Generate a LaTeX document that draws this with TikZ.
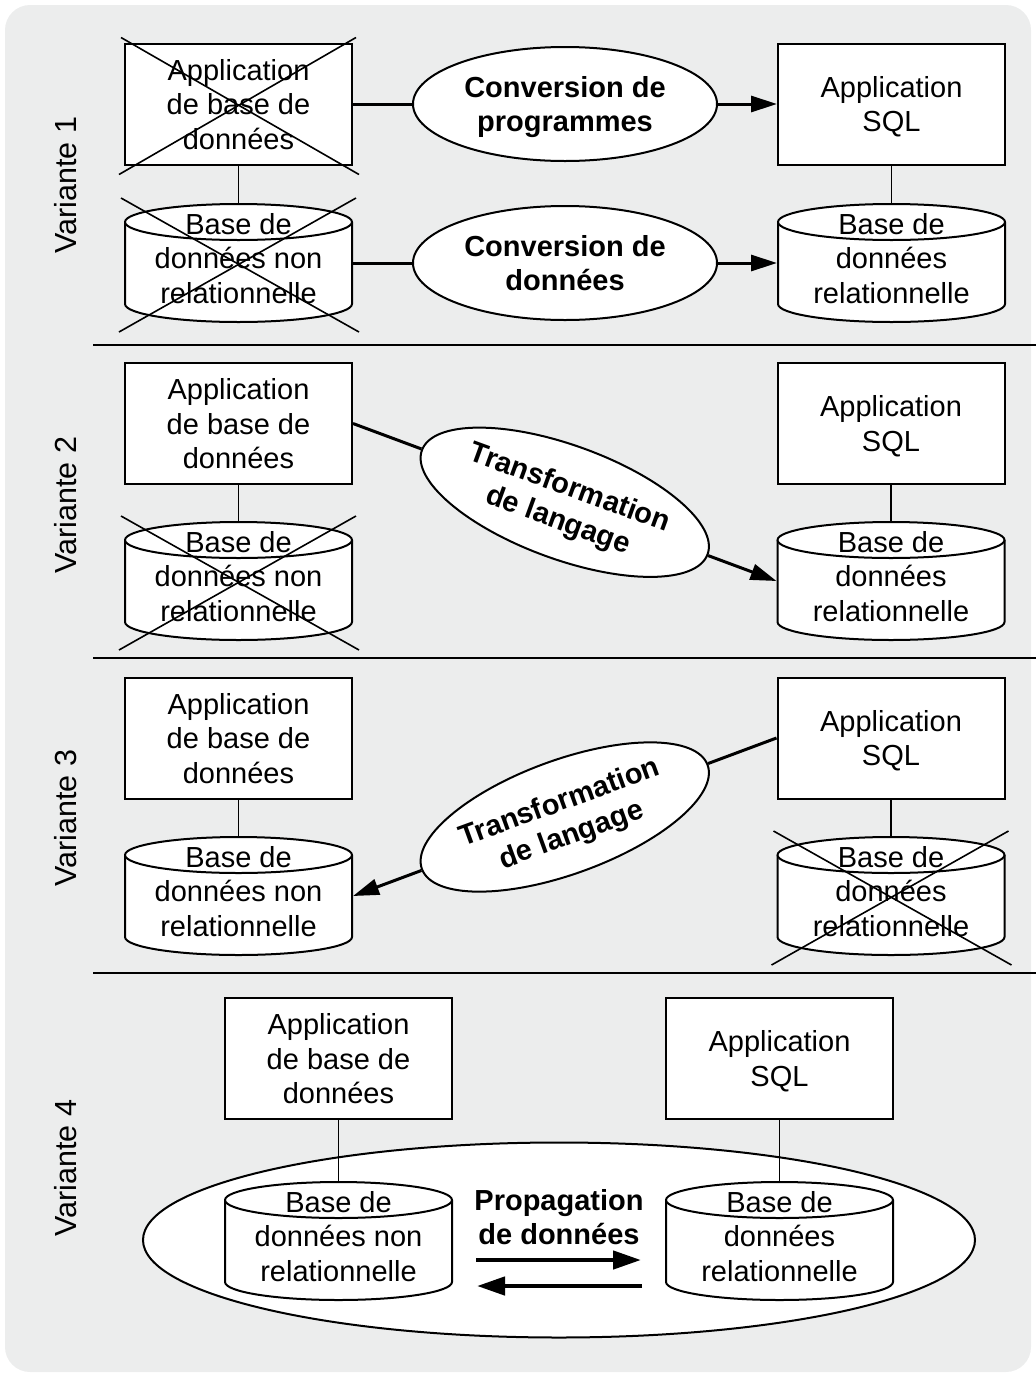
\documentclass[tikz,border=0pt]{standalone}
\usepackage{fontspec}
\setmainfont{Liberation Sans}
\usetikzlibrary{arrows.meta,positioning,shapes.geometric,calc}
\definecolor{panel}{RGB}{236,237,237}

% crossed-out node
\newcommand{\barre}[1]{%
  \path (#1.west |- #1.north) ++(-3,-5) coordinate (#1-a)
        (#1.east |- #1.south) ++(6,9) coordinate (#1-b)
        (#1.east |- #1.north) ++(3,-5) coordinate (#1-c)
        (#1.west |- #1.south) ++(-5,9) coordinate (#1-d);
  \draw[cross] (#1-a) -- (#1-b) (#1-c) -- (#1-d);}

% database drum: name, centre, text
\newcommand{\basedb}[3]{%
  \path #2 coordinate (#1-m);
  \filldraw[drum] ([shift={(-113.5,-41)}]#1-m) -- ([shift={(-113.5,41)}]#1-m)
    arc[start angle=180, end angle=360, x radius=113.5pt, y radius=18pt]
    -- ([shift={(113.5,-41)}]#1-m)
    arc[start angle=0, end angle=180, x radius=113.5pt, y radius=18pt] -- cycle;
  \draw[drum] ([shift={(-113.5,-41)}]#1-m)
    arc[start angle=180, end angle=360, x radius=113.5pt, y radius=18pt];
  \node[db] (#1) at #2 {#3};}

\begin{document}
\begin{tikzpicture}[x=1pt, y=-1pt,
  font=\fontsize{29}{34.5}\selectfont,
  app/.style={draw, line width=2pt, fill=white, align=center, minimum width=227pt, minimum height=121pt, inner sep=0pt, text depth=-5pt},
  drum/.style={line width=2pt, fill=white},
  db/.style={line width=2pt, align=center, minimum width=227pt, minimum height=118pt, inner sep=0pt, text depth=10pt},
  conv/.style={ellipse, draw, line width=2pt, fill=white, align=center, minimum width=304pt, minimum height=114pt, inner sep=0pt, text depth=-5pt, font=\fontsize{29}{34.5}\selectfont\bfseries},
  vlabel/.style={rotate=90, font=\fontsize{30.5}{36}\selectfont},
  link/.style={line width=1.6pt},
  flow/.style={line width=3pt},
  arr/.style={flow, -{Triangle[length=26pt, width=16pt]}},
  fat/.style={line width=4.5pt, -{Triangle[length=28pt, width=18pt]}, shorten <=23pt, shorten >=24pt},
  cross/.style={line width=1.6pt},
  sep/.style={line width=2.2pt},
  node distance=38pt and 59pt,
]
\useasboundingbox (0,0) rectangle (1036,1374);
\fill[panel, rounded corners=25pt] (5,5) rectangle (1031,1372);
\foreach \y in {345,658,973}
  \draw[sep] (93,\y) -- (1036,\y);

% Variante 1
\node[vlabel] (v1) at (66,185) {Variante 1};
\node[app] (app1) at (238.5,104) {Application\\de base de\\données};
\basedb{db1}{(238.5,263)}{Base de\\données non\\relationnelle}
\node[conv, right=of app1] (conv1) {Conversion de\\programmes};
\node[app, right=of conv1] (sql1) {Application\\SQL};
\node[conv, right=of db1] (conv2) {Conversion de\\données};
\basedb{rdb1}{(891.5,263)}{Base de\\données\\relationnelle}
\draw[link] (app1) -- (db1);
\draw[link] (sql1) -- (rdb1);
\draw[flow] (app1) -- (conv1);
\draw[arr] (conv1) -- (sql1);
\draw[flow] (db1) -- (conv2);
\draw[arr] (conv2) -- (rdb1);
\barre{app1}
\barre{db1}

% Variante 2
\node[vlabel] (v2) at (66,505) {Variante 2};
\node[app] (app2) at (238.5,423.5) {Application\\de base de\\données};
\basedb{db2}{(238.5,581)}{Base de\\données non\\relationnelle}
\node[app] (sql2) at (891,423.5) {Application\\SQL};
\basedb{rdb2}{(891,581)}{Base de\\données\\relationnelle}
\node[conv, rotate=-20] (tr1) at ($(app2.east)!0.5!(rdb2.west)$) {Transformation\\de langage};
\draw[link] (app2) -- (db2);
\draw[link] (sql2) -- (rdb2);
\draw[flow] (app2.east) -- (tr1);
\draw[arr] (tr1) -- (rdb2.west);
\barre{db2}

% Variante 3
\node[vlabel] (v3) at (66,818) {Variante 3};
\node[app] (app3) at (238.5,738) {Application\\de base de\\données};
\basedb{db3}{(238.5,896)}{Base de\\données non\\relationnelle}
\node[app] (sql3) at (891,738) {Application\\SQL};
\basedb{rdb3}{(891,896)}{Base de\\données\\relationnelle}
\node[conv, rotate=20] (tr2) at ($(sql3.west)!0.5!(db3.east)$) {Transformation\\de langage};
\draw[link] (app3) -- (db3);
\draw[link] (sql3) -- (rdb3);
\draw[flow] (sql3.west) -- (tr2);
\draw[arr] (tr2) -- (db3.east);
\barre{rdb3}

% Variante 4
\node[vlabel] (v4) at (66,1168) {Variante 4};
\node[conv, minimum width=832pt, minimum height=195pt] (pool) at (559,1240) {};
\node[app] (app4) at (338.5,1058.5) {Application\\de base de\\données};
\node[app] (sql4) at (779.5,1058.5) {Application\\SQL};
\basedb{db4}{(338.5,1241)}{Base de\\données non\\relationnelle}
\basedb{rdb4}{(779.5,1241)}{Base de\\données\\relationnelle}
\node[font=\fontsize{29}{34.5}\selectfont\bfseries, align=center] (prop) at (559,1217) {Propagation\\de données};
\draw[link] (app4) -- (db4);
\draw[link] (sql4) -- (rdb4);
\draw[fat] ([yshift=-19pt]db4.east) -- ([yshift=-19pt]rdb4.west);
\draw[fat] ([yshift=-45pt]rdb4.west) -- ([yshift=-45pt]db4.east);
\end{tikzpicture}
\end{document}
